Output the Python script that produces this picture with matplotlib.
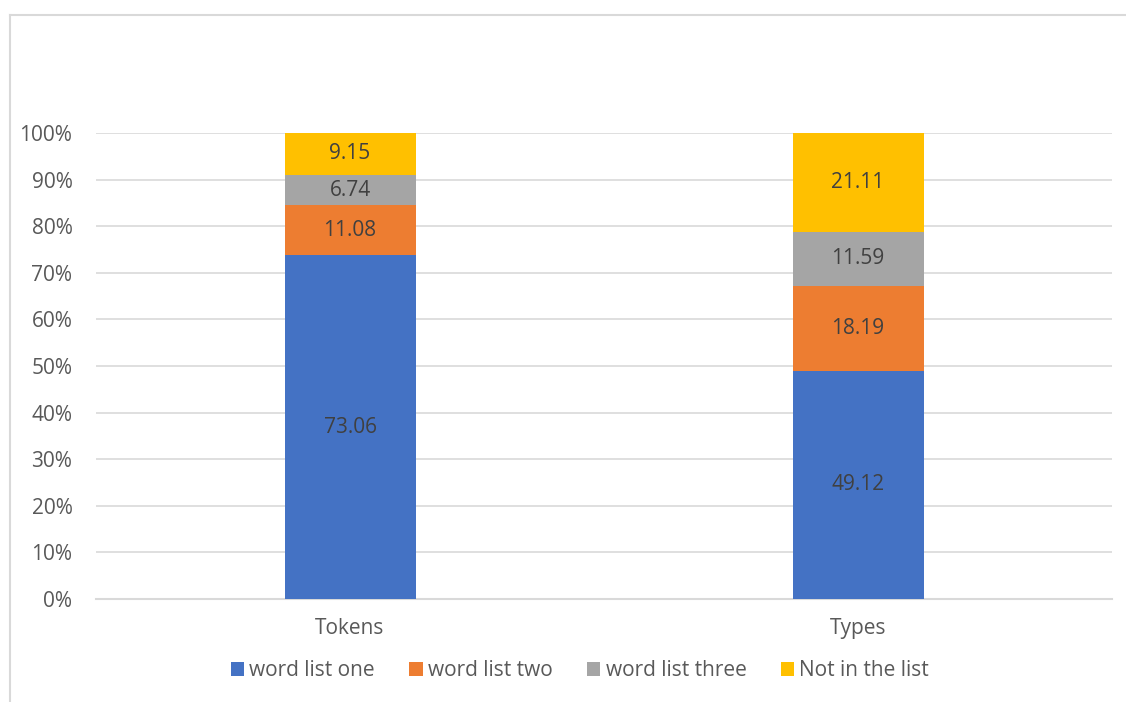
import numpy as np
import matplotlib.pyplot as plt
from matplotlib.lines import Line2D
from matplotlib.patches import Patch

plt.rcParams['font.family'] = ['Open Sans', 'DejaVu Sans']

# data
categories = ["Tokens", "Types"]
series = ["word list one", "word list two", "word list three", "Not in the list"]
# segment shares (percent of column)
shares = {
    "word list one": [73.8, 49.0],
    "word list two": [10.7, 18.25],
    "word list three": [6.5, 11.45],
    "Not in the list": [9.0, 21.3],
}
# data labels shown on the bars
labels = {
    "word list one": [73.06, 49.12],
    "word list two": [11.08, 18.19],
    "word list three": [6.74, 11.59],
    "Not in the list": [9.15, 21.11],
}
colors = ["#4472C4", "#ED7D31", "#A5A5A5", "#FFC000"]

fig = plt.figure(figsize=(11.26, 7.02), dpi=100)
ax = fig.add_axes([0.0853, 0.1467, 0.9023, 0.6638])

x = np.arange(len(categories))
totals = np.sum([shares[s] for s in series], axis=0)
bottom = np.zeros(len(categories))
for s, c in zip(series, colors):
    h = np.array(shares[s]) / totals * 100
    ax.bar(x, h, 0.258, bottom=bottom, color=c, label=s, zorder=3)
    for xi, hi, bi, vi in zip(x, h, bottom, labels[s]):
        ax.text(xi, bi + hi / 2, f"{vi:.2f}", ha="center", va="center",
                fontsize=15, color="#404040", zorder=4)
    bottom += h

ax.set_xlim(-0.5, 1.5)
ax.set_ylim(0, 100)
ax.set_yticks(np.arange(0, 101, 10))
ax.set_yticklabels([f"{t}%" for t in range(0, 101, 10)])
ax.set_xticks(x)
ax.set_xticklabels(categories)
ax.tick_params(axis="both", length=0, labelsize=15, labelcolor="#595959")
ax.tick_params(axis="y", pad=17)
ax.tick_params(axis="x", pad=14)
ax.grid(axis="y", color="#D9D9D9", linewidth=1.2, zorder=0)
for sp in ["top", "right", "left"]:
    ax.spines[sp].set_visible(False)
ax.spines["bottom"].set_color("#D9D9D9")
ax.spines["bottom"].set_linewidth(1.5)

handles = [Patch(facecolor=c, edgecolor="none") for c in colors]
fig.legend(handles, series, loc="center", bbox_to_anchor=(0.515, 0.045), ncol=4,
           frameon=False, fontsize=15, handlelength=0.66, handleheight=0.66,
           handletextpad=0.25, columnspacing=1.63, labelcolor="#595959")

# chart border (only top and left visible)
fig.add_artist(Line2D([0.009, 1.0], [0.979, 0.979], color="#D9D9D9", lw=1.5,
                      transform=fig.transFigure))
fig.add_artist(Line2D([0.009, 0.009], [0.0, 0.979], color="#D9D9D9", lw=1.5,
                      transform=fig.transFigure))

fig.savefig("out.png", dpi=100)
